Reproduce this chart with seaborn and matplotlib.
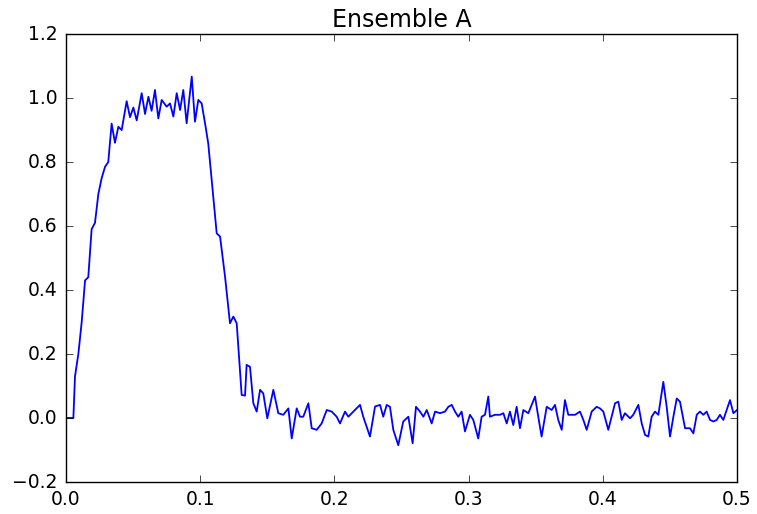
import matplotlib
matplotlib.use("Agg")
import matplotlib.pyplot as plt
import seaborn as sns
import pandas as pd

# time (s) and signal values
t_rise = [0.0, 0.0055, 0.0067, 0.0092, 0.0117, 0.0142, 0.0166, 0.0191, 0.0216, 0.0241,
          0.0266, 0.0291, 0.0315, 0.034, 0.0365, 0.039, 0.0415, 0.0452, 0.0477, 0.0502,
          0.0527, 0.0564, 0.0589, 0.0614, 0.0638, 0.0663, 0.0688, 0.0713, 0.075, 0.0775,
          0.08, 0.0825, 0.085, 0.0874, 0.0899, 0.0937, 0.0961, 0.0986, 0.1011, 0.1036, 0.106]
y_rise = [0.0, 0.0, 0.13, 0.20, 0.30, 0.43, 0.44, 0.59, 0.61, 0.70,
          0.75, 0.785, 0.80, 0.92, 0.86, 0.91, 0.90, 0.99, 0.94, 0.97,
          0.93, 1.015, 0.95, 1.004, 0.96, 1.025, 0.936, 0.994, 0.973, 0.983,
          0.942, 1.015, 0.9625, 1.025, 0.921, 1.067, 0.926, 0.994, 0.983, 0.921, 0.858]

t_fall = [0.1123, 0.1148, 0.1185, 0.1222, 0.1247, 0.1272, 0.1309]
y_fall = [0.577, 0.567, 0.442, 0.296, 0.317, 0.296, 0.072]

t_tail1 = [0.1334, 0.1346, 0.1371, 0.1396, 0.1421, 0.1446, 0.147, 0.15, 0.1545, 0.1582,
           0.1619, 0.1657, 0.1682, 0.1719, 0.1744, 0.1768, 0.1806, 0.1831, 0.1868, 0.1905,
           0.1943, 0.198, 0.2017, 0.2042, 0.2079, 0.2104, 0.2141, 0.2191, 0.2215, 0.224,
           0.2265, 0.2303, 0.234, 0.2364, 0.239, 0.2414, 0.2439, 0.2476, 0.2513, 0.2551]
y_tail1 = [0.07, 0.166, 0.16, 0.046, 0.02, 0.088, 0.077, -0.001, 0.088, 0.015,
           0.01, 0.03, -0.064, 0.03, 0.004, 0.004, 0.046, -0.032, -0.037, -0.017,
           0.025, 0.02, 0.004, -0.017, 0.02, 0.004, 0.02, 0.041, 0.004, -0.027,
           -0.058, 0.036, 0.041, 0.004, 0.041, 0.035, -0.037, -0.085, -0.011, 0.004]

t_tail2 = [0.2583, 0.2608, 0.2638, 0.2663, 0.2688, 0.2725, 0.275, 0.2787, 0.2824, 0.2849,
           0.2874, 0.2899, 0.2923, 0.2948, 0.2973, 0.301, 0.3035, 0.3072, 0.3097, 0.3122,
           0.3147, 0.3159, 0.3197, 0.3234, 0.3259, 0.3284, 0.3308, 0.3333, 0.3358, 0.3383,
           0.3408, 0.3445, 0.347, 0.3495, 0.3519, 0.3544, 0.3582, 0.3619, 0.3644, 0.3668,
           0.3694, 0.3718, 0.3743]
y_tail2 = [-0.079, 0.035, 0.02, 0.004, 0.025, -0.017, 0.02, 0.015, 0.02, 0.035,
           0.041, 0.02, 0.004, 0.02, -0.042, 0.01, -0.006, -0.064, 0.004, 0.01,
           0.067, 0.004, 0.01, 0.01, 0.015, -0.017, 0.02, -0.022, 0.035, -0.032,
           0.025, 0.015, 0.041, 0.067, 0.004, -0.058, 0.035, 0.025, 0.041, -0.006,
           -0.037, 0.056, 0.01]

t_tail3 = [0.3793, 0.383, 0.3855, 0.388, 0.3917, 0.3954, 0.3979, 0.4004, 0.4041, 0.4066,
           0.4091, 0.4116, 0.4141, 0.4165, 0.4203, 0.4227, 0.4265, 0.429, 0.4315, 0.4339,
           0.4364, 0.4389, 0.4414, 0.4451, 0.4476, 0.4501, 0.4526, 0.4551, 0.4575, 0.4613,
           0.465, 0.4675, 0.47, 0.4724, 0.4749, 0.4774, 0.4799, 0.4824, 0.4849, 0.4873,
           0.4898, 0.4923, 0.4948, 0.4973, 0.5]
y_tail3 = [0.01, 0.02, -0.006, -0.037, 0.02, 0.035, 0.03, 0.02, -0.037, 0.004,
           0.046, 0.051, -0.006, 0.015, -0.001, 0.01, 0.041, -0.017, -0.053, -0.058,
           0.004, 0.02, 0.01, 0.113, 0.035, -0.058, 0.004, 0.061, 0.051, -0.032,
           -0.032, -0.048, 0.01, 0.02, 0.01, 0.02, -0.006, -0.011, -0.006, 0.01,
           -0.006, 0.025, 0.056, 0.015, 0.025]

x_ticks = [0.0, 0.1, 0.2, 0.3, 0.4, 0.5]
y_ticks = [-0.2, 0.0, 0.2, 0.4, 0.6, 0.8, 1.0, 1.2]
title = "Ensemble A"

df = pd.DataFrame({
    "t": t_rise + t_fall + t_tail1 + t_tail2 + t_tail3,
    "y": y_rise + y_fall + y_tail1 + y_tail2 + y_tail3,
})

plt.style.use("classic")
plt.rcParams["figure.facecolor"] = "white"
plt.rcParams["savefig.facecolor"] = "white"
plt.rcParams["font.family"] = ["DejaVu Sans"]

fig = plt.figure(figsize=(7.57, 5.14), dpi=100)
ax = fig.add_axes([66 / 757, 1 - 482 / 514, (737 - 66) / 757, (482 - 34) / 514])
sns.lineplot(data=df, x="t", y="y", ax=ax, sort=False, estimator=None,
             color="#0000ff", linewidth=1.3)
ax.set_xlim(0, 0.5)
ax.set_ylim(-0.2, 1.2)
ax.set_xticks(x_ticks)
ax.set_yticks(y_ticks)
ax.set_xticklabels([f"{v:.1f}" for v in x_ticks])
ax.set_yticklabels([f"{v:.1f}".replace("-", "\u2212") for v in y_ticks])
ax.set_xlabel("")
ax.set_ylabel("")
ax.set_title(title, fontsize=17, pad=5)
ax.tick_params(labelsize=13.5, length=5, pad=6)
fig.savefig("out.png", dpi=100)
